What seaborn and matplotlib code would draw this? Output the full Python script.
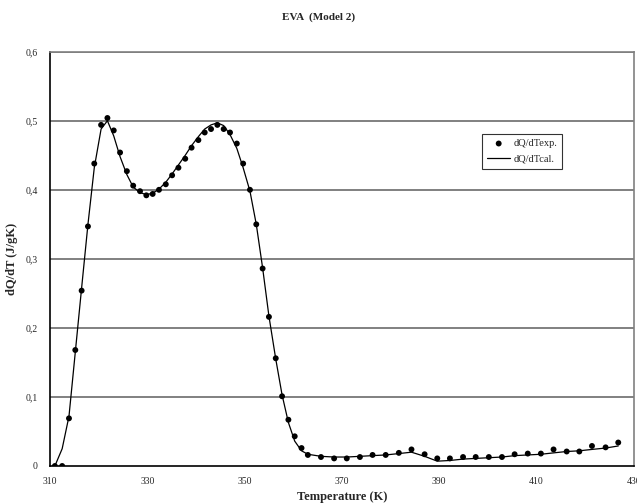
import numpy as np
import pandas as pd
import matplotlib
matplotlib.use("Agg")
import matplotlib.pyplot as plt
from matplotlib.ticker import MultipleLocator, FixedLocator, FuncFormatter
import seaborn as sns

# === Data ===
temp = [311.0, 312.5, 313.9, 315.2, 316.5, 317.8, 319.1, 320.5, 321.8, 323.1,
        324.4, 325.8, 327.1, 328.5, 329.8, 331.1, 332.4, 333.8, 335.1, 336.4,
        337.8, 339.1, 340.5, 341.8, 343.1, 344.4, 345.7, 347.0, 348.4, 349.7,
        351.1, 352.4, 353.7, 355.0, 356.4, 357.7, 359.0, 360.3, 361.7, 363.0,
        365.7, 368.4, 371.0, 373.7, 376.3, 379.0, 381.7, 384.3, 387.0, 389.6,
        392.2, 394.9, 397.5, 400.2, 402.9, 405.5, 408.2, 410.9, 413.5, 416.2,
        418.8, 421.4, 424.2, 426.8]

dqdt_exp = [0.0, 0.0, 0.069, 0.168, 0.254, 0.347, 0.438, 0.494, 0.504, 0.486,
            0.454, 0.427, 0.406, 0.398, 0.392, 0.394, 0.400, 0.408, 0.421, 0.432,
            0.445, 0.461, 0.472, 0.483, 0.488, 0.494, 0.488, 0.483, 0.467, 0.438,
            0.400, 0.350, 0.286, 0.216, 0.156, 0.101, 0.067, 0.043, 0.026, 0.016,
            0.013, 0.011, 0.011, 0.013, 0.016, 0.016, 0.019, 0.024, 0.017, 0.011,
            0.011, 0.013, 0.013, 0.013, 0.013, 0.017, 0.018, 0.018, 0.024, 0.021,
            0.021, 0.029, 0.027, 0.034]

dqdt_cal = [0.0, 0.025, 0.072, 0.165, 0.258, 0.350, 0.432, 0.488, 0.500, 0.478,
            0.448, 0.422, 0.404, 0.396, 0.393, 0.395, 0.401, 0.411, 0.423, 0.436,
            0.450, 0.464, 0.477, 0.488, 0.494, 0.497, 0.493, 0.480, 0.460, 0.432,
            0.398, 0.350, 0.287, 0.217, 0.155, 0.103, 0.063, 0.036, 0.022, 0.017,
            0.014, 0.013, 0.013, 0.014, 0.015, 0.016, 0.018, 0.020, 0.014, 0.007,
            0.008, 0.010, 0.011, 0.012, 0.013, 0.015, 0.016, 0.017, 0.019, 0.021,
            0.022, 0.024, 0.026, 0.029]

df = pd.DataFrame({"T": temp, "exp": dqdt_exp, "cal": dqdt_cal})

sns.set_style("white")
plt.rcParams["font.family"] = ["Liberation Serif", "DejaVu Serif"]

fig = plt.figure(figsize=(6.37, 5.04), dpi=100)
ax = fig.add_axes([0.0785, 0.0754, 0.9165, 0.822])

# gridlines
for v in np.arange(0.1, 0.61, 0.1):
    ax.axhline(v, color="#808080", lw=1.4, zorder=0)

sns.lineplot(data=df, x="T", y="cal", ax=ax, color="black", lw=0.9,
             sort=False, estimator=None, label="dQ/dTcal.", zorder=2)
sns.scatterplot(data=df, x="T", y="exp", ax=ax, color="black", s=18,
                edgecolor="none", label="dQ/dTexp.", zorder=3)

ax.set_xlim(310, 430)
ax.set_ylim(0, 0.6)
ax.xaxis.set_major_locator(FixedLocator(np.arange(310, 431, 20)))
ax.xaxis.set_minor_locator(FixedLocator(np.arange(310, 431, 4)))
ax.yaxis.set_major_locator(MultipleLocator(0.1))
ax.yaxis.set_minor_locator(MultipleLocator(0.02))
ax.yaxis.set_major_formatter(FuncFormatter(
    lambda v, p: "0" if abs(v) < 1e-9 else f"{v:.1f}".replace(".", ",")))
ax.tick_params(axis="both", which="both", direction="in", labelsize=7,
               color="black", width=0.8)
ax.tick_params(which="major", length=4, pad=6)
ax.tick_params(axis="x", which="major", pad=8)
ax.tick_params(which="minor", length=3)
ax.tick_params(axis="y", which="major", direction="inout", length=6)

for s in ["left", "bottom"]:
    ax.spines[s].set_color("black")
    ax.spines[s].set_linewidth(1.2)
for s in ["top", "right"]:
    ax.spines[s].set_color("#808080")
    ax.spines[s].set_linewidth(1.2)

ax.set_xlabel("Temperature (K)", fontsize=9, fontweight="bold")
ax.set_ylabel("dQ/dT (J/gK)", fontsize=9, fontweight="bold")
ax.xaxis.set_label_coords(0.5, -0.06)
ax.yaxis.set_label_coords(-0.054, 0.5)
fig.suptitle("EVA  (Model 2)", fontsize=8, fontweight="bold", y=0.975)

handles, labels = ax.get_legend_handles_labels()
order = [labels.index("dQ/dTexp."), labels.index("dQ/dTcal.")]
leg = ax.legend([handles[i] for i in order], [labels[i] for i in order],
                loc="upper left", bbox_to_anchor=(0.74, 0.802), borderaxespad=0,
                fontsize=7.5, frameon=True, fancybox=False, edgecolor="black",
                handlelength=2.2, handletextpad=0.3, borderpad=0.5,
                labelspacing=0.6)
leg.get_frame().set_linewidth(0.8)

fig.savefig("out.png", dpi=100)
